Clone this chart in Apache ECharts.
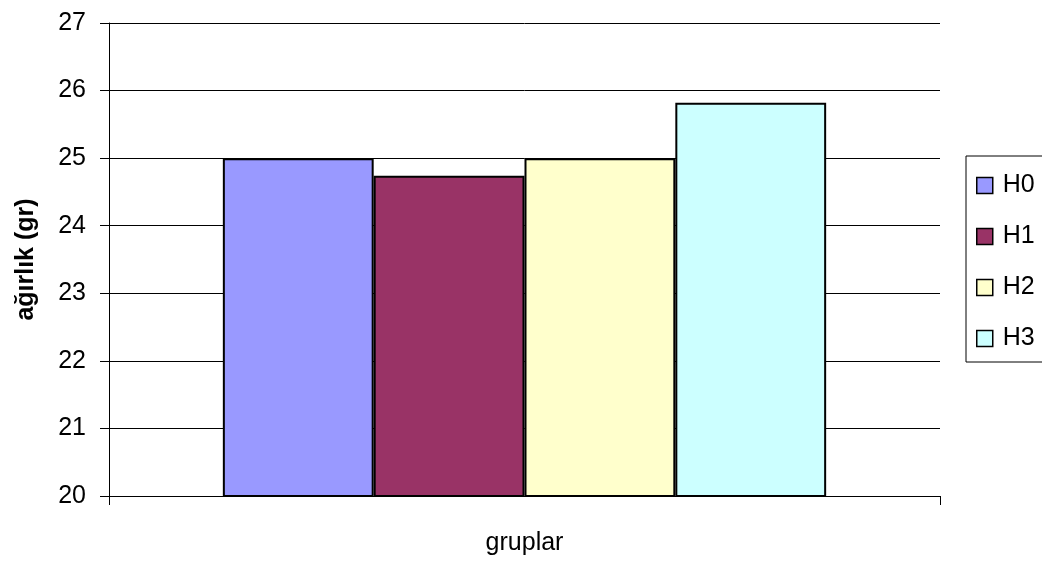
<!DOCTYPE html>
<html>
<head>
<meta charset="utf-8">
<script src="https://cdn.jsdelivr.net/npm/echarts@6/dist/echarts.min.js"></script>
<style>
html,body{margin:0;padding:0;background:#fff;}
#chart{width:1042px;height:563px;}
</style>
</head>
<body>
<div id="chart"></div>
<script>
const categories = ['gruplar'];
const seriesNames = ['H0', 'H1', 'H2', 'H3'];
const seriesValues = [[25.0], [24.74], [25.0], [25.82]];
const seriesColors = ['#9999FF', '#993366', '#FFFFCC', '#CCFFFF'];
const yTicks = { min: 20, max: 27, interval: 1 };
const yTitle = 'ağırlık (gr)';

const FONT = "'Liberation Sans', Arial, sans-serif";
const chart = echarts.init(document.getElementById('chart'), null, { renderer: 'canvas' });

const series = seriesNames.map((n, i) => ({
  name: n,
  type: 'bar',
  data: seriesValues[i],
  barGap: '0%',
  barCategoryGap: '27.4%',
  itemStyle: { color: seriesColors[i], borderColor: '#000', borderWidth: 2 },
  emphasis: { disabled: true }
}));

chart.setOption({
  animation: false,
  backgroundColor: '#fff',
  textStyle: { fontFamily: FONT },
  grid: { left: 109, right: 102, top: 23, bottom: 67, containLabel: false },
  legend: {
    orient: 'vertical',
    left: 966,
    top: 156,
    padding: [17, 40, 11, 10],
    itemGap: 26,
    itemWidth: 16,
    itemHeight: 16,
    icon: 'rect',
    borderColor: '#000',
    borderWidth: 1,
    textStyle: { fontFamily: FONT, fontSize: 25, color: '#000', padding: [0, 0, 0, 5] },
    itemStyle: { borderColor: '#000', borderWidth: 1.5 },
    data: seriesNames
  },
  xAxis: {
    type: 'category',
    data: categories,
    boundaryGap: true,
    axisLine: { lineStyle: { color: '#000', width: 1 } },
    axisTick: { show: true, length: 9, lineStyle: { color: '#000' } },
    axisLabel: { fontFamily: FONT, fontSize: 25, color: '#000', margin: 35 },
    splitLine: { show: false }
  },
  yAxis: {
    type: 'value',
    min: yTicks.min,
    max: yTicks.max,
    interval: yTicks.interval,
    name: yTitle,
    nameLocation: 'middle',
    nameGap: 70,
    nameTextStyle: { fontFamily: FONT, fontSize: 25, fontWeight: 'bold', color: '#000' },
    axisLine: { show: true, lineStyle: { color: '#000', width: 1 } },
    axisTick: { show: true, length: 9, lineStyle: { color: '#000' } },
    axisLabel: { fontFamily: FONT, fontSize: 25, color: '#000', margin: 23 },
    splitLine: { show: true, lineStyle: { color: '#000', width: 1 } }
  },
  series: series
});
</script>
</body>
</html>
